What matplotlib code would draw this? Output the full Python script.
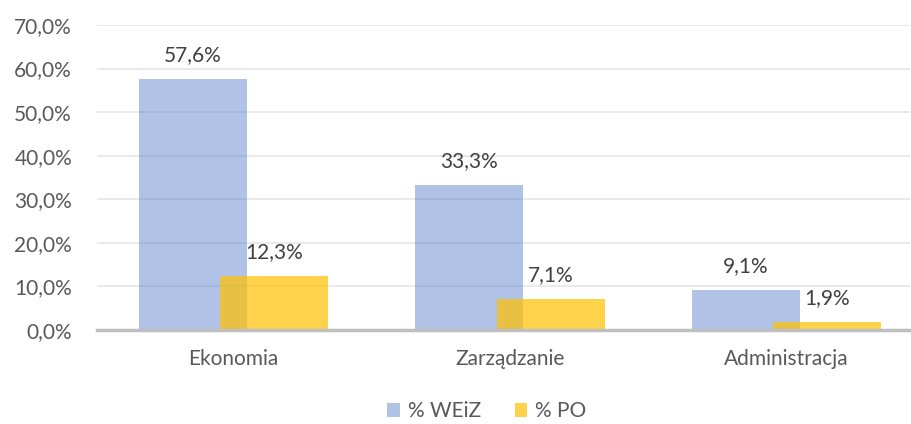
import numpy as np
import matplotlib.pyplot as plt

categories = ['Ekonomia', 'Zarządzanie', 'Administracja']
weiz = [57.6, 33.3, 9.1]
po = [12.3, 7.1, 1.9]
series_names = ['% WEiZ', '% PO']

plt.rcParams['font.family'] = ['Lato', 'DejaVu Sans']
txt = '#595959'
fs = 15

fig = plt.figure(figsize=(9.12, 4.24), dpi=100)
ax = fig.add_axes([0.1064, 0.2217, 0.8914, 0.7193])

x = np.arange(len(categories))
w = 0.39
off = 0.147
b1 = ax.bar(x - off, weiz, w, color='#4472C4', alpha=0.42, label=series_names[0], zorder=2)
b2 = ax.bar(x + off, po, w, color='#FFC000', alpha=0.7, label=series_names[1], zorder=3)

for bars, vals in ((b1, weiz), (b2, po)):
    for r, v in zip(bars, vals):
        ax.annotate(('%.1f%%' % v).replace('.', ','),
                    (r.get_x() + r.get_width() / 2, v),
                    xytext=(0, 10), textcoords='offset points',
                    ha='center', va='bottom', fontsize=fs, color='#404040')

ax.set_ylim(0, 70)
ax.set_xlim(-0.494, 2.447)
ax.set_yticks(np.arange(0, 71, 10))
ax.set_yticklabels([('%.1f%%' % t).replace('.', ',') for t in np.arange(0, 71, 10)])
ax.set_xticks(x)
ax.set_xticklabels(categories)
ax.tick_params(axis='both', length=0, labelsize=fs, colors=txt)
ax.tick_params(axis='y', pad=18)
ax.tick_params(axis='x', pad=14)
ax.grid(axis='y', color='#E6E6E6', lw=1.2, zorder=0)
for s in ['top', 'right', 'left']:
    ax.spines[s].set_visible(False)
ax.spines['bottom'].set_color('#BFBFBF')
ax.spines['bottom'].set_linewidth(2.5)
ax.spines['bottom'].set_zorder(4)

leg = fig.legend(loc='center', bbox_to_anchor=(0.534, 0.03), ncol=2, frameon=False,
                 fontsize=fs, handlelength=0.6, handleheight=0.6, handletextpad=0.4,
                 columnspacing=1.6)
for t in leg.get_texts():
    t.set_color(txt)

fig.savefig('out.png', dpi=100)
